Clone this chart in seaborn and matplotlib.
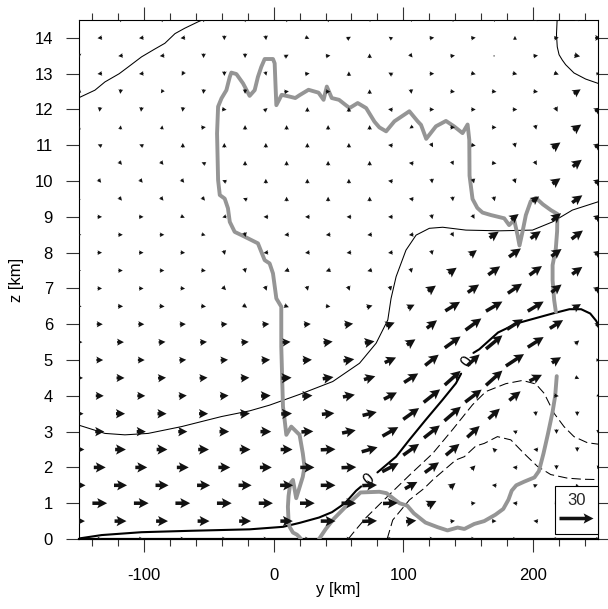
import numpy as np
import matplotlib
matplotlib.use("Agg")
import matplotlib.pyplot as plt
import seaborn as sns
from matplotlib.patches import Rectangle

sns.set_theme(style="ticks")
plt.rcParams['font.family'] = ['Liberation Sans', 'DejaVu Sans']

# ---------------- data ----------------
z_levels = [0, 0.5, 1, 1.5, 2, 2.5, 3, 3.5, 4, 4.5, 5, 5.5, 6, 6.5, 7, 7.5,
            8, 8.5, 9, 9.5, 10, 10.5, 11, 11.5, 12, 12.5, 13, 13.5, 14, 14.5]
y_even = [-134, -102, -70, -38, -6, 26, 58, 90, 122, 154, 186, 218, 250]
y_odd = [-150, -118, -86, -54, -22, 10, 42, 74, 106, 138, 170, 202, 234]

u_rows = [
    [4, 4, 4, 4, 4, 4, 4, 4, 4, 4, 3.5, 3.5, 3.5],
    [10.5, 10.5, 10.5, 10.5, 10.5, 11, 13, 13, 9, 4, 4, -4, 3],
    [13, 13, 13, 13, 12.5, 13, 13, 13, 8, 4, -4, 3, 3],
    [11.5, 11.5, 11.5, 11.5, 11.5, 11.5, 13, 13, 11, 5, -4, 3.5, 2.5],
    [10.5, 10.5, 10.5, 10.5, 10.5, 12.5, 13, 14.5, 12.5, 3.5, -4, 0, -1],
    [9.5, 9.5, 9.5, 9.5, 9.5, 10.5, 13, 14, 14, 12, -3, -4, 0],
    [8, 8, 8, 8.5, 9.5, 10.5, 12, 14, 14, 11, -3.5, 0, 0],
    [8, 8, 8, 8, 8.5, 9.5, 11, 12.5, 14, 14.5, 10, 0.5, 0],
    [7, 7, 7, 7.5, 8.5, 9, 10.5, 11.5, 14.5, 14.5, 10, 4, 2],
    [7, 7, 7, 7, 7.5, 8.8, 9.5, 10, 12.5, 14, 14.5, 11, 3.5],
    [6, 6, 6, 6.5, 7.5, 8, 9.5, 10, 12, 11, 16, 8, 3],
    [6, 6, 6, 6, 6.5, 7, 8, 8.5, 7.5, 14, 14.5, 14, 3.5],
    [5.3, 5.3, 5.3, 5.5, 6, 6, 7.5, 7.5, 9, 14, 14, 11.7, 4],
    [4.5, 4.5, 4.5, 4.3, 3.5, 4, 4, 5, 6, 13, 14.5, 14, 6.5],
    [4, 4, 4, 3, 1.5, 1, 1.5, 1, 7, 10, 12.5, 9, 5],
    [3.5, 4, 4, 4, 1, -4, -4, -4, 1, 7, 10.5, 11, 9],
    [4, 4, 4, 1, -4, -4, -4, -4, 1, 6, 10.5, 9, 5],
    [4, 4, 4, 3.5, 1, -4, -4, -4, -4, 2, 8, 9, 10],
    [4, 4, 3.5, -3.5, -4, -4, -4, -4, 1, 2, 6.5, 8, 5],
    [3, 2.5, 2.5, 2.5, -3.5, 0, 0, 0, -4, 0.5, 1, 6, 9],
    [2.5, 2.5, 2.5, -3.5, 0, 0, 0, -4, 0.5, 1, 1.5, 7, 5],
    [1.5, 2.5, 2.5, -3.5, 0, 0, 0, 0, -4, 1.5, 4, 2, 8],
    [-3.5, -3.5, 0, 0, 0, 0, 0, -4, 2, 4, 1, 7, 5],
    [0.5, 0.5, 0.5, 4, 0, 0, 0, 0, -3, 4, 4, 1, 7],
    [-0.5, -0.5, -0.5, 4, 3, 0, 0, -4, 4, 4, 4, 2, 5],
    [-3, -0.5, -2, -0.5, 0, 4, 4, 0, 0.5, 4, 4, 4, 6],
    [-4, -4, -2, 0, 1, 4, 0, -3.5, 4, 4, 4, 4, 3],
    [0, -4, -4, 0, 0, 3.5, 4, 0, 2.5, 4, 1, 4, 5],
    [-4, -4, -4, 0, 0.5, 3.5, 3.5, -3, 4, 4, 0, 4, 5],
    [0.5, 0.5, 0.5, 0.5, 0.5, 0.5, 0.5, 1, 1, 1, 1, 3, 3],
]
w_rows = [
    [0, 0, 0, 0, 0, 0, 0, 0, 0, 0, 0, 0, 0],
    [0, 0, 0, 0, 0, 0, 0, 0.5, 1, 0.5, 0, 0.5, 0],
    [0, 0, 0, 0, 0, 0, 0, 0.5, 4, 0.5, 0.5, 0, 0],
    [0, 0, 0, 0, 0, 0, 0, 0.5, 6, 4, 0.5, 1.5, 0],
    [0, 0, 0, 0, 0, 0, 0.5, 7.5, 9, 3.5, 0.5, -4, -3],
    [0, 0, 0, 0, 0, 0, 0.5, 4, 10, 10, 3, 0.5, -4],
    [0, 0, 0, 0, 0, 0.5, 2.5, 8, 11, 10, 1.5, -4, -3],
    [0, 0, 0, 0, 0.5, 0.5, 1, 3, 10, 12.5, 9, -4, -4],
    [0, 0, 0.5, 0.5, 0.5, 0.5, 2, 6, 11.5, 11, 8, -0.5, -1],
    [0, 0, 0.5, 0.5, 0.5, 0.5, 1.5, 3, 8, 12.5, 13, 5.5, -1.5],
    [0, 0, 0.5, 0.5, 0.5, 0.5, 1.5, 4.5, 9.5, 10, 10.5, 5, 0],
    [0, 0, 0.5, 0.5, 0.5, 0.5, 1, 1.5, 5, 10, 12, 9, 3],
    [0, 0, 0.3, 0.5, 0.5, 0.5, 1, 3, 7, 10.3, 9, 7.3, 2.5],
    [0, 0, -0.3, -0.5, -2.5, -1.5, -0.5, 1.5, 3, 8, 8.5, 8.5, 4],
    [0, 0, -0.3, -3, -4, -4, -4, -4, 5, 7, 8.5, 7, 4],
    [0, 0, 0, -0.5, -4, -1.5, -1.5, -1, -4, 5, 7.5, 8, 6.5],
    [0, 0, -0.3, -4, -0.5, -0.5, -0.5, -0.5, -4, 4.5, 7.5, 6.5, 4],
    [0, 0, 0, -1, -4, -0.5, -0.5, -0.5, -0.5, -3.5, 5.5, 6.5, 7.5],
    [0, 0, -1.5, -1, 0, 0, 0, 0, -4, -3.5, 5, 6.5, 4],
    [-1, -3, -3, -3, 1.5, 4, 4, 4, 0.5, -4, -4, 4.5, 6.5],
    [-3, -3, -3, 1.5, 4, 4, 4, 0.5, -4, -4, -4, 5, 4],
    [-1, -3, -3, 1.5, 4, 4, 4, 4, 0.5, -3.5, -0.5, -3.5, 6],
    [1.5, 1.5, 4, 4, 4, 4, 4, 0.5, -3.5, -0.5, -4, 5, 4],
    [3.5, 3.5, 3.5, 0.5, 4, 4, 4, 4, -2, 0, 0, -4, 5],
    [-4, -4, -4, -0.5, 2.5, 4, 4, 0.5, 0, 0, 0, -4, 3.5],
    [-1, -4, -3, -4, -4, 0.5, 0, 4, -4, -0.5, -0.5, -0.5, 4],
    [-0.5, -0.5, -3.5, -4, -3.5, 0.5, 4, 2, 0, -1, -1, -1.5, 0],
    [-4, -0.5, -0.5, -4, -4, 2, 0.5, 4, -3, 0.5, 1, 0.5, -1],
    [-0.5, -0.5, -0.5, -4, -4, -1.5, 2, 2, 0.5, 0.5, 3.5, 0.5, 0],
    [-4, -4, -4, -4, -4, -4, -4, -3.5, -3.5, -3.5, -3.5, -2, -2],
]

# thin solid contours (y, z)
thin1_y = [-150, -137.7, -130, -119, -112, -101.8, -92, -83.8, -76, -68.5, -58.2, -55]
thin1_z = [12.33, 12.54, 12.77, 13.0, 13.19, 13.47, 13.68, 13.85, 14.12, 14.27, 14.45, 14.5]
thin2_y = [218.5, 218, 218.6, 220, 222.5, 225.1, 231.5, 240.5, 250]
thin2_z = [14.5, 14.1, 13.75, 13.53, 13.38, 13.25, 13.02, 12.85, 12.73]
thin3_y = [250, 230.3, 215, 199.5, 173.8, 148.2, 130.3, 120, 109.8, 102, 94.4, 90.5, 88,
           79, 66.2, 45.6, 20, -3.1, -18.5, -40.3, -71, -96.7, -114.6, -130, -149.2, -150]
thin3_z = [9.42, 9.19, 8.86, 8.63, 8.61, 8.63, 8.71, 8.68, 8.49, 8.07, 7.33, 6.72, 6.12,
           5.47, 4.91, 4.40, 4.04, 3.74, 3.58, 3.42, 3.14, 2.95, 2.91, 2.95, 3.17, 3.18]

# thick zero contour, in three pieces (gaps at the labels)
zero_a_y = [-150, -149, -132.5, -101.8, -63.3, -18.5, 7.2, 20, 35, 45, 55, 63.6, 67.5]
zero_a_z = [0.0, 0.02, 0.11, 0.19, 0.23, 0.27, 0.34, 0.45, 0.6, 0.75, 1.0, 1.35, 1.47]
zero_b_y = [80, 94.4, 104.6, 117, 130, 140.5, 144.5]
zero_b_z = [1.86, 2.3, 2.77, 3.32, 3.88, 4.35, 4.62]
zero_c_y = [154, 158.5, 173, 188, 200, 215, 228, 237, 244, 248.5, 250]
zero_c_z = [5.2, 5.3, 5.77, 6.03, 6.15, 6.3, 6.42, 6.42, 6.3, 6.1, 6.0]
zero_labels_y = [73.8, 149.3]
zero_labels_z = [1.66, 4.95]
zero_labels_rot = [40, 55]

# dashed negative contours
dash1_y = [57.5, 62, 71.3, 86.7, 104.6, 122.6, 138, 153.3, 163.6, 179, 191.8, 202.1,
           208.5, 216.2, 223.8, 231.5, 241.8, 250]
dash1_z = [0.0, 0.2, 0.6, 1.15, 1.78, 2.39, 3.06, 3.75, 4.12, 4.34, 4.43, 4.33,
           4.07, 3.51, 3.14, 2.86, 2.69, 2.65]
dash2_y = [87.5, 91.8, 104.6, 116.2, 122.6, 140.5, 147, 155.9, 162.3, 172.5, 182.8, 193,
           203.3, 213.6, 226.4, 238, 250]
dash2_z = [0.0, 0.53, 1.09, 1.42, 1.65, 2.21, 2.3, 2.6, 2.67, 2.86, 2.77, 2.39,
           2.03, 1.8, 1.7, 1.67, 1.66]

# grey (cloud boundary) contour, two pieces
grey_a_y = [21, 20, 18, 14.9, 12.3, 11.5, 11, 11.5, 12.8, 14.9, 17.4, 22.5, 23.8,
            22.5, 20, 13.6, 9.8, 8.5, 7.2, 5.9, 5.9, 2.1, -0.5, -3.1, -6.9, -12.1,
            -19.8, -24.8, -30, -33.8, -35.2, -37.7, -41.5, -42.8, -43.6, -42.8,
            -40.2, -36.4, -33.8, -32.6, -28.7, -23.6, -18.5, -14.6, -12.1, -9.5,
            -6.9, -0.5, 0.8, 1.5, 2.1, 6.2, 12.3, 16.7, 20, 26.9, 34.6, 38.5, 41,
            44.8, 50.4, 58.5, 64.8, 71.3, 77.7, 81.5, 86.7, 93.1, 104.6, 111, 113.6,
            117.6, 125.1, 132.8, 139, 145.6, 149.5, 150.8, 151, 153.3, 157, 161,
            167.5, 177.7, 181.5, 185.4, 188, 189.5, 191.8, 194.4, 198.2, 202.1,
            207.5, 213.6, 218.7, 218.5, 217.5, 215, 215, 216.2, 217.5]
grey_a_z = [0.0, 0.05, 0.12, 0.18, 0.34, 0.5, 0.9, 1.2, 1.55, 1.65, 1.14, 1.74, 2.02,
            2.39, 2.91, 3.14, 2.91, 3.32, 3.70, 5.37, 6.49, 6.72, 7.42, 7.70, 7.79, 8.26,
            8.40, 8.49, 8.58, 8.86, 9.24, 9.51, 9.61, 10.03, 11.33, 12.08,
            12.31, 12.54, 12.91, 13.03, 12.99, 12.73, 12.38, 12.54, 12.91, 13.19,
            13.41, 13.41, 13.29, 12.64, 12.12, 12.41, 12.36, 12.32, 12.4, 12.55, 12.47,
            12.27, 12.64, 12.32, 12.27, 12.04, 12.18, 12.04, 11.66, 11.5, 11.39, 11.67,
            11.95, 11.67, 11.57, 11.18, 11.53, 11.68, 11.53, 11.34, 11.58, 11.15,
            10.15, 9.5, 9.25, 9.12, 9.05, 8.96, 8.77, 8.91, 8.49, 8.2, 8.58, 9.05,
            9.44, 9.53, 9.35, 9.19, 9.08, 8.6, 8.12, 7.65, 7.23, 6.68, 6.35]
grey_b_y = [218.2, 217, 215, 211.5, 208, 204.5, 201, 193, 187, 183.5, 181, 177, 171,
            162.3, 154.6, 147, 141.8, 134, 126.4, 117, 108, 103, 97, 87, 81.5, 67,
            59, 46, 40, 35]
grey_b_z = [4.55, 4.0, 3.55, 2.95, 2.39, 1.9, 1.72, 1.6, 1.5, 1.35, 1.1, 0.84, 0.68,
            0.5, 0.42, 0.28, 0.32, 0.24, 0.33, 0.46, 0.72, 0.93, 1.0, 1.28, 1.32, 1.3,
            1.03, 0.55, 0.27, 0.0]

ref_speed = 30
x_ticks = [-100, 0, 100, 200]
z_ticks = list(range(0, 15))

# ---------------- build vector arrays ----------------
Yv, Zv, Uv, Wv = [], [], [], []
for i, z in enumerate(z_levels):
    cols = y_even if i % 2 == 0 else y_odd
    for j, yy in enumerate(cols):
        Yv.append(yy)
        Zv.append(z)
        Uv.append(u_rows[i][j])
        Wv.append(w_rows[i][j])
Yv, Zv, Uv, Wv = map(np.asarray, (Yv, Zv, Uv, Wv))

# ---------------- figure ----------------
fig = plt.figure(figsize=(6.08, 6.09), dpi=100)
fig.patch.set_facecolor("white")
ax = fig.add_axes([79 / 608, 70 / 609, 519 / 608, 519 / 609])
ax.set_facecolor("white")

def path(xs, ys, **kw):
    sns.lineplot(x=xs, y=ys, sort=False, estimator=None, ax=ax, **kw)

path(thin1_y, thin1_z, color="black", lw=0.75, zorder=2)
path(thin2_y, thin2_z, color="black", lw=0.75, zorder=2)
path(thin3_y, thin3_z, color="black", lw=0.75, zorder=2)
for ys, zs in [(zero_a_y, zero_a_z), (zero_b_y, zero_b_z), (zero_c_y, zero_c_z)]:
    path(ys, zs, color="black", lw=1.5, zorder=2)
path(dash1_y, dash1_z, color="black", lw=0.75, linestyle=(0, (9, 4)), zorder=2)
path(dash2_y, dash2_z, color="black", lw=0.75, linestyle=(0, (9, 4)), zorder=2)
path(grey_a_y, grey_a_z, color="#959595", lw=2.8, zorder=3)
path(grey_b_y, grey_b_z, color="#959595", lw=2.8, zorder=3)

for ly, lz, rot in zip(zero_labels_y, zero_labels_z, zero_labels_rot):
    ax.text(ly, lz, "0", rotation=rot, ha="center", va="center",
            rotation_mode="anchor", fontsize=11.5, color="black", zorder=3.5)

Q = ax.quiver(Yv, Zv, Uv, Wv, pivot="middle", angles="uv",
              scale=ref_speed / 0.34, scale_units="inches",
              width=0.0068, headwidth=2.9, headlength=2.8, headaxislength=2.4,
              minshaft=1, minlength=0.3, color="#111111", zorder=4)

box = Rectangle((0.917, 0.0096), 0.083, 0.0925, transform=ax.transAxes,
                facecolor="white", edgecolor="black", lw=0.8, zorder=5, clip_on=False)
ax.add_patch(box)
qk = ax.quiverkey(Q, 0.958, 0.041, ref_speed, str(ref_speed), labelpos="N",
                  coordinates="axes", labelsep=0.1,
                  fontproperties={"size": 12}, zorder=6)

ax.set_xlim(-150, 250)
ax.set_ylim(0, 14.5)
ax.set_xticks(x_ticks)
ax.set_xticks(np.arange(-140, 250, 20), minor=True)
ax.set_yticks(z_ticks)
ax.set_xticklabels([str(t) for t in x_ticks])
ax.set_yticklabels([str(t) for t in z_ticks])

ax.tick_params(axis="both", which="major", direction="out", length=9.4, width=0.8,
               color="#333333", labelsize=12, labelcolor="black")
ax.tick_params(axis="x", which="major", top=True, bottom=True, pad=11.5)
ax.tick_params(axis="x", which="minor", direction="out", length=5, width=0.8,
               color="#333333", top=True, bottom=True)
ax.tick_params(axis="y", which="major", left=True, right=True, pad=9.4)
ax.tick_params(axis="y", which="minor", left=False, right=False)

for s in ax.spines.values():
    s.set_visible(True)
    s.set_color("black")
    s.set_linewidth(0.8)
ax.spines["bottom"].set_linewidth(1.6)

ax.set_xlabel("y [km]", fontsize=12, color="black")
ax.set_ylabel("z [km]", fontsize=12, color="black")
ax.xaxis.set_label_coords(0.5, -0.083)
ax.yaxis.set_label_coords(-0.106, 0.5)
ax.grid(False)

fig.savefig("out.png", dpi=100)
